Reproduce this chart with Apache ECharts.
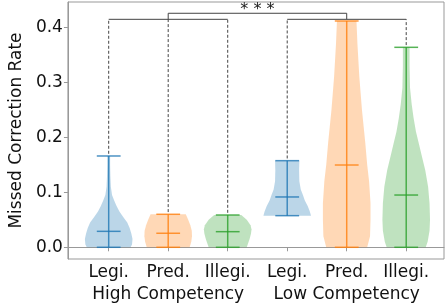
<!DOCTYPE html>
<html>
<head>
<meta charset="utf-8">
<script src="https://cdn.jsdelivr.net/npm/echarts@6/dist/echarts.min.js"></script>
<style>
  html, body { margin: 0; padding: 0; background: #fff; }
  #chart { width: 445px; height: 305px; }
</style>
</head>
<body>
<div id="chart"></div>
<script>
// six violins, two competency groups of three
const categories = ['Legi.', 'Pred.', 'Illegi.', 'Legi.', 'Pred.', 'Illegi.'];
const groups = ['High Competency', 'Low Competency'];
const groupCenters = [2, 5];
const yTicks = [0, 0.1, 0.2, 0.3, 0.4];

const mins = [0, 0, 0, 0.0575, 0, 0];
const maxs = [0.166, 0.06, 0.0587, 0.1575, 0.4115, 0.3636];
const means = [0.029, 0.0255, 0.0284, 0.0915, 0.1496, 0.095];

// violin outlines: y levels and relative width (1 = widest)
const levels = [
  [0.166, 0.15, 0.13, 0.11, 0.095, 0.085, 0.075, 0.065, 0.055, 0.045, 0.035, 0.025, 0.015, 0.005, 0],
  [0.06, 0.05, 0.04, 0.03, 0.02, 0.01, 0],
  [0.0587, 0.05, 0.04, 0.033, 0.025, 0.015, 0.005, 0],
  [0.1575, 0.14, 0.12, 0.105, 0.095, 0.085, 0.075, 0.065, 0.0575],
  [0.4115, 0.37, 0.31, 0.25, 0.19, 0.15, 0.12, 0.08, 0.05, 0.02, 0],
  [0.3636, 0.33, 0.29, 0.26, 0.235, 0.21, 0.185, 0.165, 0.14, 0.11, 0.08, 0.05, 0.03, 0.01, 0]
];
const density = [
  [0.06, 0.06, 0.07, 0.09, 0.14, 0.23, 0.33, 0.45, 0.61, 0.78, 0.88, 0.95, 1, 0.98, 0.92],
  [0.74, 0.84, 0.93, 0.99, 1, 0.97, 0.9],
  [0.57, 0.8, 0.96, 1, 0.98, 0.92, 0.84, 0.8],
  [0.51, 0.5, 0.51, 0.57, 0.66, 0.74, 0.86, 0.95, 1],
  [0.41, 0.45, 0.53, 0.64, 0.78, 0.86, 0.94, 1, 1, 0.98, 0.86],
  [0.14, 0.14, 0.16, 0.23, 0.31, 0.41, 0.55, 0.66, 0.8, 0.92, 0.98, 1, 0.98, 0.9, 0.82]
];

// significance brackets
const groupLevel = 0.4145;
const topLevel = 0.4255;
const starLevel = 0.431;
const stars = '* * *';

const colors = ['#1f77b4', '#ff7f0e', '#2ca02c'];
const fills = ['rgba(31,119,180,0.3)', 'rgba(255,127,14,0.3)', 'rgba(44,160,44,0.3)'];
const font = 'DejaVu Sans';
const fontSize = 17;
const halfWidth = 0.4;
const capWidth = 0.2;

const positions = categories.map((c, i) => i + 1);

function renderViolin(params, api) {
  const i = params.dataIndex;
  const x = positions[i];
  const color = colors[i % 3];
  const right = levels[i].map((y, k) => api.coord([x + density[i][k] * halfWidth, y]));
  const left = levels[i].map((y, k) => api.coord([x - density[i][k] * halfWidth, y])).reverse();
  const line = (x1, y1, x2, y2) => {
    const a = api.coord([x1, y1]);
    const b = api.coord([x2, y2]);
    return {
      type: 'line',
      shape: { x1: a[0], y1: a[1], x2: b[0], y2: b[1] },
      style: { stroke: color, lineWidth: 1.5, opacity: 0.8 }
    };
  };
  return {
    type: 'group',
    children: [
      { type: 'polygon', shape: { points: right.concat(left) }, style: { fill: fills[i % 3] } },
      line(x, mins[i], x, maxs[i]),
      line(x - capWidth, mins[i], x + capWidth, mins[i]),
      line(x - capWidth, maxs[i], x + capWidth, maxs[i]),
      line(x - capWidth, means[i], x + capWidth, means[i])
    ]
  };
}

// bracket segments [x1, y1, x2, y2, dashed]
const segments = [];
positions.forEach((x, i) => {
  if (maxs[i] + 0.004 < groupLevel) segments.push([x, maxs[i] + 0.004, x, groupLevel, 1]);
});
segments.push([positions[0], groupLevel, positions[2], groupLevel, 0]);
segments.push([positions[3], groupLevel, positions[5], groupLevel, 0]);
groupCenters.forEach(c => segments.push([c, groupLevel, c, topLevel, 0]));
segments.push([groupCenters[0], topLevel, groupCenters[1], topLevel, 0]);

function renderSegment(params, api) {
  const a = api.coord([api.value(0), api.value(1)]);
  const b = api.coord([api.value(2), api.value(3)]);
  return {
    type: 'line',
    shape: { x1: a[0], y1: a[1], x2: b[0], y2: b[1] },
    style: { stroke: '#444', lineWidth: 1, lineDash: api.value(4) ? [3, 2] : null }
  };
}

function renderStars(params, api) {
  const p = api.coord([api.value(0), api.value(1)]);
  return {
    type: 'text',
    x: p[0],
    y: p[1],
    style: { text: stars, fontSize: 16, fontFamily: font, fill: '#222', align: 'center', verticalAlign: 'middle' }
  };
}

const chart = echarts.init(document.getElementById('chart'), null, { renderer: 'canvas' });
const xMin = 0.315, xMax = 6.635;

chart.setOption({
  animation: false,
  grid: { left: 59, right: 1, top: 2, bottom: 46, show: true, borderColor: '#999', borderWidth: 1 },
  xAxis: [
    {
      type: 'value', min: xMin, max: xMax,
      axisLine: { show: true, lineStyle: { color: '#999' } },
      axisTick: { show: true, customValues: positions, length: 4, lineStyle: { color: '#999' } },
      axisLabel: {
        customValues: positions, margin: 5, fontSize: fontSize, fontFamily: font, color: '#111',
        formatter: v => categories[Math.round(v) - 1]
      },
      splitLine: { show: false }
    },
    {
      type: 'value', min: xMin, max: xMax, position: 'bottom', offset: 22,
      axisLine: { show: false }, axisTick: { show: false },
      axisLabel: {
        customValues: groupCenters, margin: 5, fontSize: fontSize, fontFamily: font, color: '#111',
        formatter: v => groups[groupCenters.indexOf(Math.round(v))]
      },
      splitLine: { show: false }
    }
  ],
  yAxis: {
    type: 'value', min: -0.0213, max: 0.446,
    name: 'Missed Correction Rate', nameLocation: 'middle', nameGap: 34,
    nameTextStyle: { fontSize: fontSize, fontFamily: font, color: '#111' },
    axisLine: { show: true, lineStyle: { color: '#999' } },
    axisTick: { show: true, customValues: yTicks, length: 4, lineStyle: { color: '#999' } },
    axisLabel: {
      customValues: yTicks, margin: 5, fontSize: fontSize, fontFamily: font, color: '#111',
      formatter: v => v.toFixed(1)
    },
    splitLine: { show: false }
  },
  series: [
    { type: 'custom', renderItem: renderViolin, data: positions.map(x => [x, 0]), silent: true },
    { type: 'custom', renderItem: renderSegment, data: segments, silent: true, clip: false },
    { type: 'custom', renderItem: renderStars, data: [[(groupCenters[0] + groupCenters[1]) / 2, starLevel]], silent: true, clip: false }
  ]
});
</script>
</body>
</html>
